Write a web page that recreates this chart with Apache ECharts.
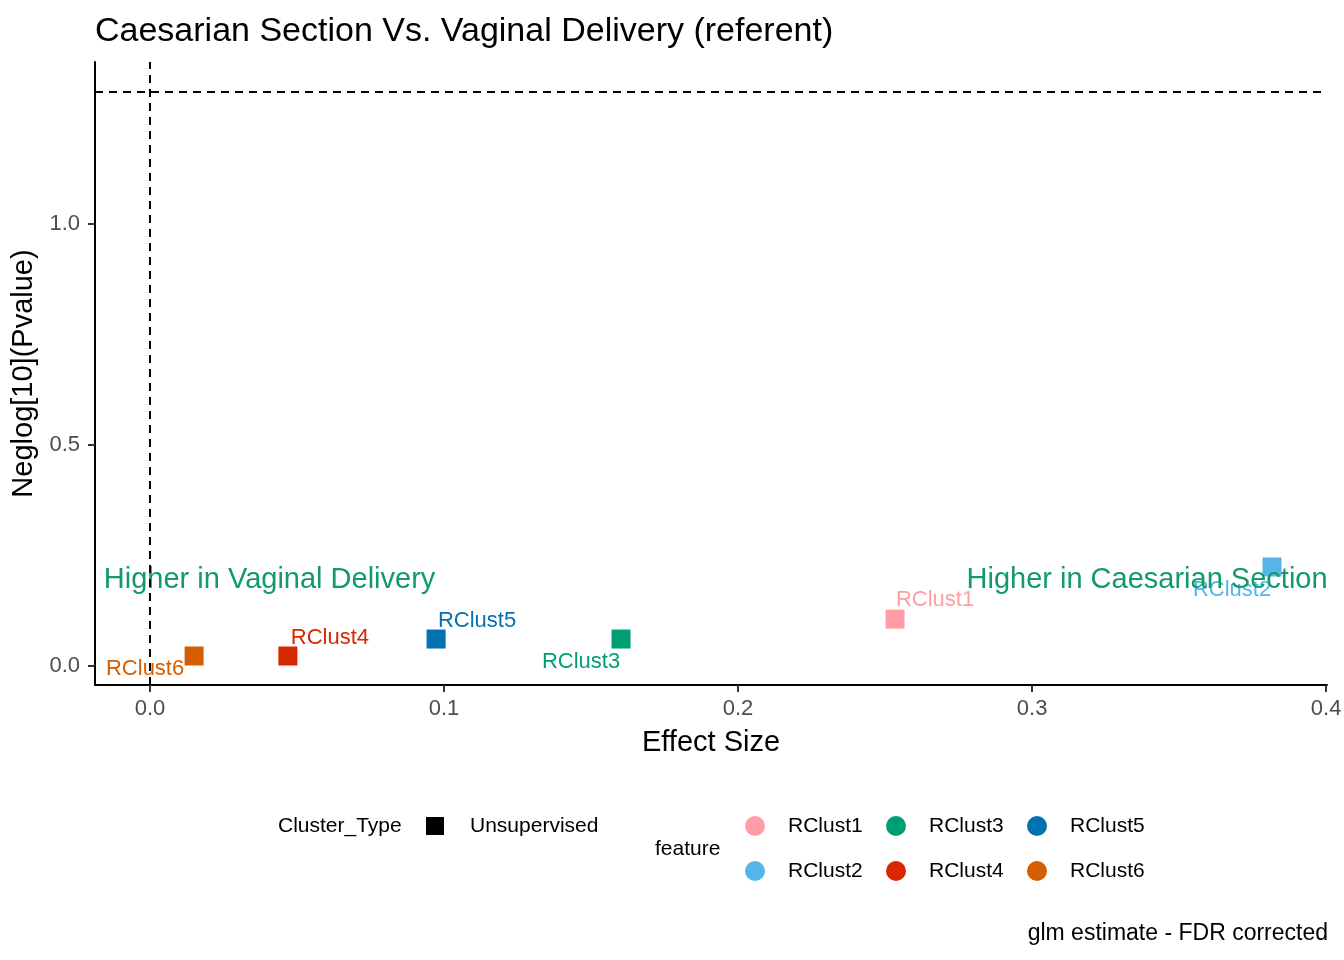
<!DOCTYPE html>
<html>
<head>
<meta charset="utf-8">
<script src="https://cdn.jsdelivr.net/npm/echarts@6/dist/echarts.min.js"></script>
<style>
    html, body { margin: 0; padding: 0; background: #fff; }
    #chart { width: 1344px; height: 960px; }
</style>
</head>
<body>
<div id="chart"></div>
<script>
// 数据
const features = ['RClust1', 'RClust2', 'RClust3', 'RClust4', 'RClust5', 'RClust6'];
const effectSize = [0.2534, 0.3816, 0.1602, 0.0469, 0.0973, 0.0150];
const negLogP = [0.106, 0.224, 0.061, 0.0226, 0.061, 0.0226];
const xTicks = [0, 0.1, 0.2, 0.3, 0.4];
const yTicks = [0, 0.5, 1.0];
const pThreshold = 1.30103; // -log10(0.05)
const annotTexts = ['Higher in Vaginal Delivery', 'Higher in Caesarian Section'];
const annotX = [-0.0157, 0.4005];
const annotY = [0.195, 0.195];

// 样式
const colors = ['#FF9DA7', '#56B4E9', '#009E73', '#D72800', '#0072B2', '#D55E00'];
const labelNudge = [[40, -19], [-40, 23], [-40, 23], [42, -18], [41, -18], [-49, 13]];
const FONT = 'Liberation Sans, Arial, sans-serif';
const annotColor = '#12996E';

document.addEventListener('DOMContentLoaded', () => {
    const myChart = echarts.init(document.getElementById('chart'));

    // 散点系列，每个feature一个
    const pointSeries = features.map((name, i) => ({
        name: name,
        type: 'scatter',
        symbol: 'rect',
        symbolSize: 19,
        itemStyle: { color: colors[i], opacity: 1 },
        data: [[effectSize[i], negLogP[i]]],
        label: {
            show: true,
            formatter: name,
            position: 'inside',
            offset: labelNudge[i],
            color: colors[i],
            fontFamily: FONT,
            fontSize: 22
        },
        z: 3
    }));

    // 注释文字
    const annotSeries = {
        type: 'scatter',
        symbolSize: 0,
        silent: true,
        clip: false,
        itemStyle: { opacity: 1 },
        data: annotTexts.map((t, i) => ({
            value: [annotX[i], annotY[i]],
            label: {
                show: true,
                formatter: t,
                position: i === 0 ? 'right' : 'left',
                distance: 0,
                color: annotColor,
                fontFamily: FONT,
                fontSize: 29
            }
        })),
        z: 4
    };

    // 虚线
    const refLines = {
        type: 'line',
        data: [],
        markLine: {
            silent: true,
            symbol: 'none',
            label: { show: false },
            lineStyle: { color: '#000', type: [8, 6], width: 2 },
            data: [{ yAxis: pThreshold }, { xAxis: 0 }]
        }
    };

    // 图例 (手动绘制)
    const legendGraphics = [];
    const legY1 = 826, legY2 = 871;
    const txt = (x, y, text, size, align) => ({
        type: 'text',
        x: x, y: y,
        style: {
            text: text, font: size + 'px ' + FONT, fill: '#000',
            align: align || 'left', verticalAlign: 'middle'
        }
    });
    legendGraphics.push(txt(278, legY1, 'Cluster_Type', 21));
    legendGraphics.push({
        type: 'rect', shape: { x: 426, y: legY1 - 9, width: 18, height: 18 },
        style: { fill: '#000' }
    });
    legendGraphics.push(txt(470, legY1, 'Unsupervised', 21));
    legendGraphics.push(txt(655, 849, 'feature', 21));
    features.forEach((name, i) => {
        const col = Math.floor(i / 2);
        const row = i % 2;
        const cx = 755 + col * 141;
        const cy = row === 0 ? legY1 : legY2;
        legendGraphics.push({
            type: 'circle', shape: { cx: cx, cy: cy, r: 10 },
            style: { fill: colors[i] }
        });
        legendGraphics.push(txt(cx + 33, cy, name, 21));
    });
    legendGraphics.push(txt(1328, 934, 'glm estimate - FDR corrected', 23, 'right'));

    const option = {
        animation: false,
        backgroundColor: '#fff',
        title: {
            text: 'Caesarian Section Vs. Vaginal Delivery (referent)',
            left: 90,
            top: 10,
            textStyle: { fontFamily: FONT, fontSize: 34, fontWeight: 'normal', color: '#000' }
        },
        grid: { left: 95, right: 17, top: 62, bottom: 275, containLabel: false, outerBoundsMode: 'none' },
        xAxis: {
            type: 'value',
            min: -0.0187,
            max: 0.4003,
            name: 'Effect Size',
            nameLocation: 'middle',
            nameGap: 43,
            nameTextStyle: { fontFamily: FONT, fontSize: 29, color: '#000' },
            splitLine: { show: false },
            axisLine: { onZero: false, lineStyle: { color: '#000', width: 2 } },
            axisTick: { customValues: xTicks, length: 7, lineStyle: { color: '#333', width: 2 } },
            axisLabel: {
                customValues: xTicks,
                formatter: v => v.toFixed(1),
                margin: 13,
                color: '#4D4D4D',
                fontFamily: FONT,
                fontSize: 22
            }
        },
        yAxis: {
            type: 'value',
            min: -0.043,
            max: 1.3665,
            name: 'Neglog[10](Pvalue)',
            nameLocation: 'middle',
            nameGap: 48,
            nameTextStyle: { fontFamily: FONT, fontSize: 29, color: '#000' },
            splitLine: { show: false },
            axisLine: { onZero: false, lineStyle: { color: '#000', width: 2 } },
            axisTick: { customValues: yTicks, length: 7, lineStyle: { color: '#333', width: 2 } },
            axisLabel: {
                customValues: yTicks,
                formatter: v => v.toFixed(1),
                margin: 15,
                color: '#4D4D4D',
                fontFamily: FONT,
                fontSize: 22
            }
        },
        graphic: legendGraphics,
        series: [refLines, ...pointSeries, annotSeries]
    };
    myChart.setOption(option);
});
</script>
</body>
</html>
